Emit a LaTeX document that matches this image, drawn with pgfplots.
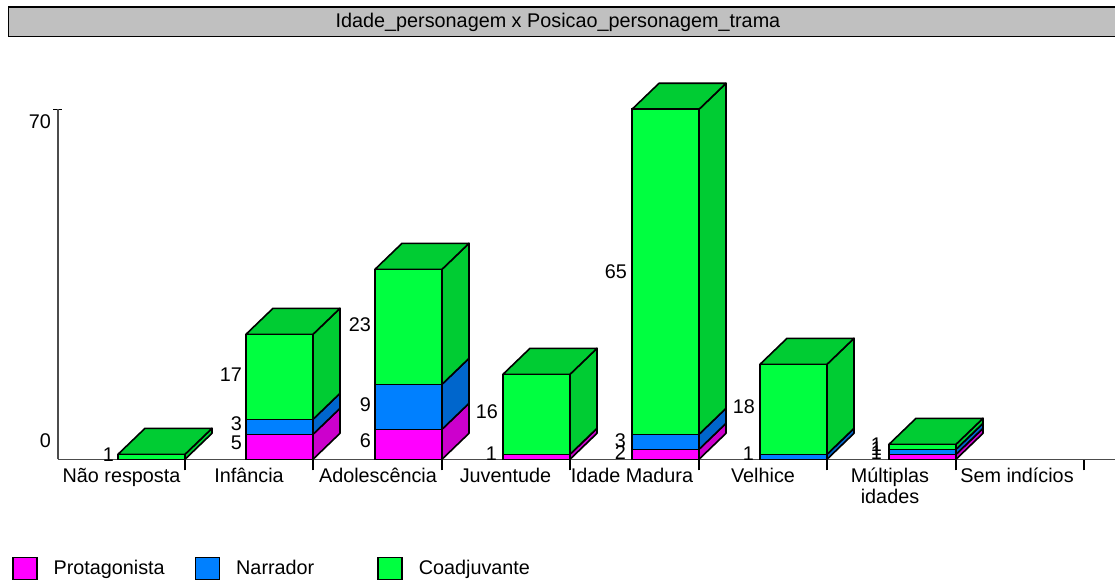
\documentclass[border=0pt]{standalone}
\usepackage{fontspec}
\setmainfont{Liberation Sans}
\usepackage{pgfplots}
\pgfplotsset{compat=1.18}
\definecolor{magF}{HTML}{FF00FF}\definecolor{magS}{HTML}{CC00CC}
\definecolor{bluF}{HTML}{0080FF}\definecolor{bluS}{HTML}{0066CC}
\definecolor{grnF}{HTML}{00FF40}\definecolor{grnS}{HTML}{00CC33}
% side face of one segment: right edge x, lower and upper stack value, colour
\newcommand{\sideface}[4]{\addplot[fill=#4,draw=black,line width=1.6pt,line join=round] coordinates {({#1},{#2}) ({#1+27},{#2+5.2}) ({#1+27},{#3+5.2}) ({#1},{#3})} -- cycle;}
\newcommand{\topface}[2]{\addplot[fill=grnS,draw=black,line width=1.6pt,line join=round] coordinates {({#1},{#2}) ({#1+27},{#2+5.2}) ({#1-40},{#2+5.2}) ({#1-67},{#2})} -- cycle;}
\newcommand{\lab}[3]{\node[anchor=east,inner sep=0pt] at (axis cs:#1,{(459.3-#2)/5}) {#3};}
\pgfplotsset{common/.style={
  scale only axis, width=1057pt, height=350pt,
  at={(58pt,119.7pt)}, anchor=south west,
  xmin=58, xmax=1115, ymin=0, ymax=70, clip=false}}
\begin{document}
\begin{tikzpicture}[x=1pt,y=1pt,font=\fontsize{19.8}{21.5}\selectfont]
\path[use as bounding box,clip] (0,0) rectangle (1115,579);
\fill[white] (0,0) rectangle (1115,579);
\draw[fill={rgb,255:red,192;green,192;blue,192},draw=black,line width=1.5pt] (8.5,572) rectangle (1125,542.5);
\node[inner sep=0pt] at (558,556.5) {Idade\_personagem x Posicao\_personagem\_trama};
% 3D side and top faces
\begin{axis}[common, hide axis]
\sideface{185}{0}{1}{grnS}\topface{185}{1}
\sideface{313}{0}{5}{magS}\sideface{313}{5}{8}{bluS}\sideface{313}{8}{25}{grnS}\topface{313}{25}
\sideface{442}{0}{6}{magS}\sideface{442}{6}{15}{bluS}\sideface{442}{15}{38}{grnS}\topface{442}{38}
\sideface{570}{0}{1}{magS}\sideface{570}{1}{17}{grnS}\topface{570}{17}
\sideface{699}{0}{2}{magS}\sideface{699}{2}{5}{bluS}\sideface{699}{5}{70}{grnS}\topface{699}{70}
\sideface{827}{0}{1}{bluS}\sideface{827}{1}{19}{grnS}\topface{827}{19}
\sideface{956}{0}{1}{magS}\sideface{956}{1}{2}{bluS}\sideface{956}{2}{3}{grnS}\topface{956}{3}
\end{axis}
% front faces, axes, labels, legend
\begin{axis}[common,
  ybar stacked, bar width=67, bar shift=0pt,
  axis x line=bottom, axis y line=left,
  axis line style={-,draw=black!70,line width=1.2pt},
  xtick={121.5,249,378,505.5,632,763,890,1017},
  xticklabels={Não resposta,Infância,Adolescência,Juventude,Idade Madura,Velhice,{Múltiplas\\idades},Sem indícios},
  xticklabel style={align=center,anchor=north,yshift=4pt},
  major x tick style={draw=none},
  minor xtick={185,313,442,570,699,827,956,1084},
  minor x tick style={draw=black,line width=1.4pt},
  minor tick length=11pt,
  xtick align=outside,
  ytick={70}, yticklabels={},
  ytick align=center, major tick length=9pt,
  y tick style={draw=black,line width=1.4pt},
  legend style={draw=none,fill=none,at={(axis cs:12,-21.8)},anchor=west,
    legend columns=3,inner sep=0pt,outer sep=0pt,
    nodes={anchor=west,text width=141pt,inner xsep=0pt,inner ysep=0pt},
    /tikz/every odd column/.append style={column sep=16pt}},
  legend image code/.code={\draw[#1,line width=1.6pt,draw=black] (0pt,-11pt) rectangle (24pt,11pt);},
]
\addplot[fill=magF,draw=black,line width=1.6pt] coordinates {(151.5,0) (279.5,5) (408.5,6) (536.5,1) (665.5,2) (793.5,0) (922.5,1)};
\addplot[fill=bluF,draw=black,line width=1.6pt] coordinates {(151.5,0) (279.5,3) (408.5,9) (536.5,0) (665.5,3) (793.5,1) (922.5,1)};
\addplot[fill=grnF,draw=black,line width=1.6pt] coordinates {(151.5,1) (279.5,17) (408.5,23) (536.5,16) (665.5,65) (793.5,18) (922.5,1)};
\legend{Protagonista,Narrador,Coadjuvante}
\lab{51}{441}{0}
\lab{51}{122}{70}
\lab{114}{455}{1}
\lab{242}{443}{5}\lab{242}{424}{3}\lab{242}{375}{17}
\lab{371}{441}{6}\lab{371}{405}{9}\lab{371}{325}{23}
\lab{497}{454}{1}\lab{498}{412}{16}
\lab{626}{453}{2}\lab{626}{441}{3}\lab{627}{272}{65}
\lab{754}{454}{1}\lab{755}{407}{18}
\lab{882}{453}{1}\lab{882}{449}{1}\lab{882}{445}{1}
\end{axis}
\end{tikzpicture}
\end{document}
